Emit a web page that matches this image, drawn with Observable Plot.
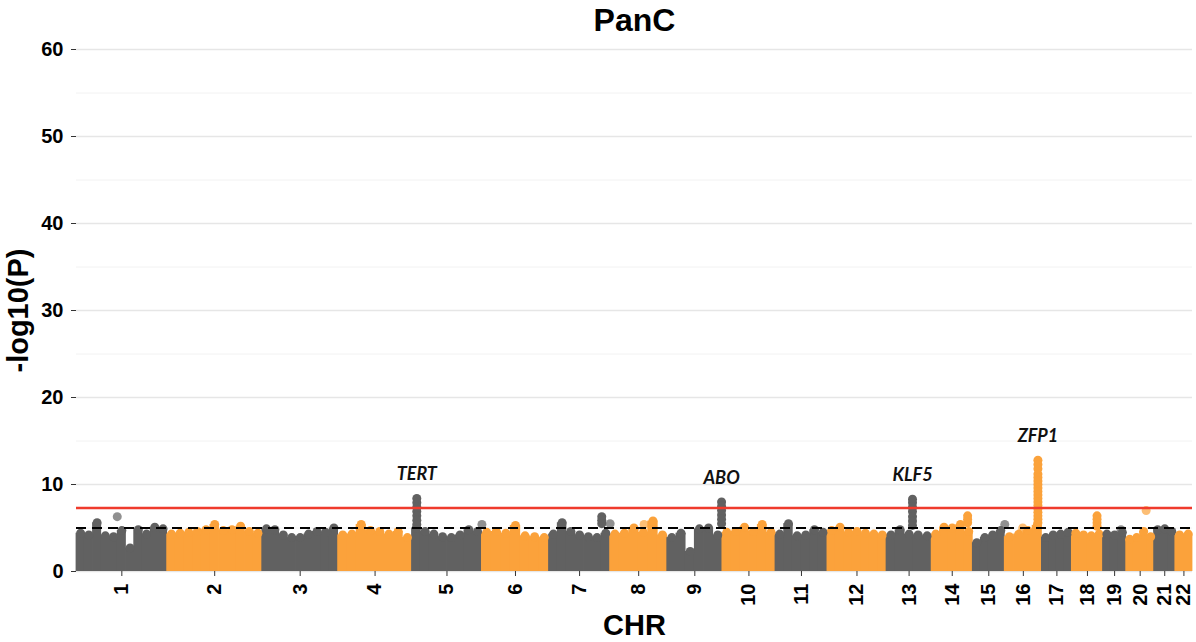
<!DOCTYPE html>
<html><head><meta charset="utf-8">
<script src="https://cdn.jsdelivr.net/npm/d3@7"></script>
<script src="https://cdn.jsdelivr.net/npm/@observablehq/plot@0.6"></script>
<style>
body{margin:0;background:#fff;}
#chart svg{display:block;}
</style></head><body><div id="chart"></div>
<script>
// ---- data ----
const title = "PanC";
const chrNames = ["1","2","3","4","5","6","7","8","9","10","11","12","13","14","15","16","17","18","19","20","21","22"];
// chromosome spans (Mb, as drawn)
const chrLen = [227,238,190,185,175,168,153,143,138,133,130,148,113,103,80,93,75,78,58,70,53,43];
// upper profile of the dense SNP mass per chromosome (-log10 P), left to right
const envelope = [
  [4.4,4.2,5.6,4.1,4.0,4.7,2.7,4.8,4.3,5.1,4.9],
  [4.3,4.4,4.5,4.6,4.8,5.4,4.7,4.8,5.2,4.6,4.4],
  [4.9,4.8,4.2,3.9,3.9,4.3,4.6,4.5,5.0],
  [4.2,4.3,5.4,4.7,4.6,4.3,4.6,3.9],
  [5.0,4.6,4.3,4.0,3.9,4.2,4.8,4.6],
  [4.5,4.6,4.4,5.3,4.1,4.0,3.9],
  [4.3,5.6,4.6,4.2,4.0,3.9,4.4],
  [4.3,4.4,5.0,4.5,5.8,4.2],
  [3.9,4.4,2.3,4.9,5.0,4.2],
  [4.5,4.6,5.1,4.6,5.4,4.5],
  [4.3,5.5,4.1,4.2,4.8,4.5],
  [4.7,5.1,4.5,4.6,4.4,4.3,4.2],
  [4.2,4.8,4.3,4.2,4.1],
  [4.3,5.1,5.0,5.4,4.6],
  [3.3,3.9,4.2,4.7],
  [4.0,4.3,4.7,5.3],
  [3.9,4.2,4.3,4.5],
  [4.4,4.2,4.1,4.3],
  [4.3,4.2,4.5],
  [3.7,3.9,4.6,4.0],
  [4.8,4.9,4.6],
  [4.2,4.3]
];
// peak columns
const hitChr = [5, 9, 13, 16, 7, 14, 18];
const hitPos = [12, 136, 65, 83, 132, 90, 63];
const hitGene = ["TERT", "ABO", "KLF5", "ZFP1", "", "", ""];
const hitValues = [
  [8.4,7.9,7.4,6.9,6.4,5.9,5.4],
  [8.0,7.5,7.0,6.5,6.0,5.5],
  [8.3,7.9,7.4,6.9,6.3,5.8,5.3],
  [12.8,12.3,11.8,11.2,10.8,10.4,10.0,9.6,9.2,8.8,8.4,8.0,7.6,7.2,6.8,6.4,6.0,5.6],
  [6.3,5.9,5.5],
  [6.4,6.0,5.6],
  [6.4,6.0,5.6,5.2]
];
// isolated lighter points
const soloChr = [1, 5, 7, 8, 15, 16, 19, 20];
const soloPos = [102, 175, 153, 85, 80, 45, 45, 50];
const soloVal = [6.3, 5.4, 5.5, 5.4, 5.4, 5.0, 4.8, 7.0];
const genomeWide = 7.3;
const suggestive = 5;
const yTicks = [0,10,20,30,40,50,60];
const yMinor = [5,15,25,35,45,55];

// ---- build ----
const GRAY = "#616161", ORANGE = "#FBA23B";
const starts = chrLen.map((_, i) => d3.sum(chrLen.slice(0, i)));
const total = d3.sum(chrLen);
const colorOf = i => (i % 2 === 0 ? GRAY : ORANGE);
const segs = [];
envelope.forEach((vals, i) => {
  const n = vals.length, w = chrLen[i] / n;
  vals.forEach((v, j) => segs.push({x1: starts[i] + j * w, x2: starts[i] + (j + 1) * w, xm: starts[i] + (j + 0.5) * w, y: v, c: colorOf(i)}));
});
const hits = [];
hitChr.forEach((c, k) => hitValues[k].forEach(v => hits.push({x: starts[c - 1] + hitPos[k], y: v, c: colorOf(c - 1)})));
const labels = hitGene.map((g, k) => ({g, x: starts[hitChr[k] - 1] + hitPos[k], y: d3.max(hitValues[k])})).filter(d => d.g);
const solos = soloChr.map((c, k) => ({x: starts[c - 1] + soloPos[k], y: soloVal[k], c: colorOf(c - 1)}));
const tickPos = chrLen.map((l, i) => starts[i] + l / 2);
const nameAt = new Map(tickPos.map((p, i) => [p, chrNames[i]]));

const plot = Plot.plot({
  width: 1196, height: 642,
  marginLeft: 76, marginRight: 4, marginTop: 49, marginBottom: 71,
  style: {fontFamily: "'Liberation Sans', Arial, sans-serif", background: "#fff", color: "#000"},
  x: {domain: [0, total]},
  y: {domain: [0, 60]},
  marks: [
    Plot.ruleY(yMinor, {stroke: "#f2f2f2", strokeWidth: 1}),
    Plot.ruleY(yTicks, {stroke: "#e6e6e6", strokeWidth: 1.5}),
    Plot.rectY(segs, {x1: "x1", x2: "x2", y: "y", fill: "c", insetLeft: -0.4, insetRight: -0.4}),
    Plot.dot(segs, {x: "xm", y: "y", r: 4.5, fill: "c"}),
    Plot.dot(hits, {x: "x", y: "y", r: 4.5, fill: "c"}),
    Plot.dot(solos, {x: "x", y: "y", r: 4.5, fill: "c", fillOpacity: 0.7}),
    Plot.ruleY([genomeWide], {stroke: "#EF3B2C", strokeWidth: 2.5}),
    Plot.ruleY([suggestive], {stroke: "#000", strokeWidth: 2, strokeDasharray: "10,6"}),
    Plot.text(labels, {x: "x", y: "y", text: "g", dy: -24, fontSize: 18, fontWeight: "bold", fontStyle: "italic", fontFamily: "Lato, 'Open Sans', sans-serif", fill: "#111"}),
    Plot.axisY(yTicks, {tickSize: 5, tickPadding: 8, fontSize: 20, fontWeight: "bold", label: null, stroke: "#333"}),
    Plot.axisX(tickPos, {tickFormat: d => nameAt.get(d), tickRotate: -90, tickSize: 5, tickPadding: 7, fontSize: 20, fontWeight: "bold", label: null, stroke: "#333"}),
    Plot.text([title], {frameAnchor: "top", lineAnchor: "middle", dy: -29, fontSize: 32, fontWeight: "bold"}),
    Plot.text(["CHR"], {frameAnchor: "bottom", lineAnchor: "middle", dy: 54, fontSize: 29, fontWeight: "bold"}),
    Plot.text(["-log10(P)"], {frameAnchor: "left", textAnchor: "middle", lineAnchor: "middle", dx: -58, rotate: -90, fontSize: 29, fontWeight: "bold"})
  ]
});
document.getElementById("chart").appendChild(plot);
</script></body></html>
